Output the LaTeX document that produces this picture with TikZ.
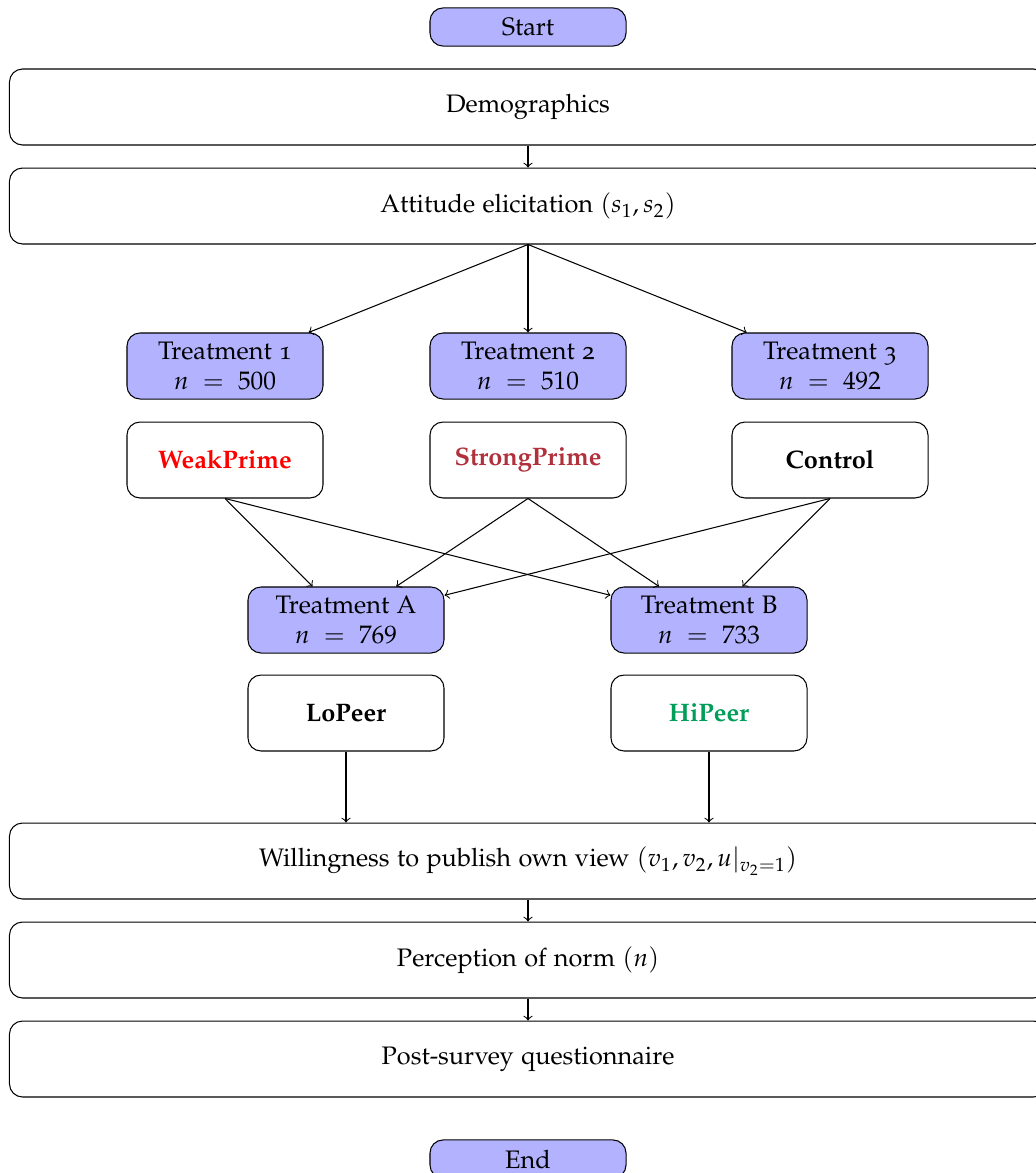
\documentclass[tikz,border=0pt]{standalone}
\usepackage[T1]{fontenc}
\usepackage[osf]{mathpazo}
\definecolor{strongc}{RGB}{176,48,60}
\definecolor{hic}{RGB}{0,158,88}
\tikzset{
  box/.style={draw=black, rounded corners=5pt, thin, align=center, inner sep=2pt, font=\fontsize{9.7pt}{11.6pt}\selectfont},
  treat/.style={box, fill=blue!30, minimum width=75.1pt, minimum height=25.3pt},
  term/.style={box, fill=blue!30, minimum width=75.1pt, minimum height=14.6pt},
  cond/.style={box, fill=white, minimum width=75.1pt, minimum height=29.1pt, font=\fontsize{9.7pt}{11.6pt}\selectfont\bfseries},
  wide/.style={box, fill=white, minimum width=397.3pt, minimum height=29.1pt},
  arr/.style={->, thin}
}
\begin{document}
\begin{tikzpicture}[x=0.3831pt, y=-0.3831pt]
\useasboundingbox (0,0) rectangle (1036,1173);
\node[term] (start) at (528,27) {Start};
\node[wide] (demo) at (528,107) {Demographics};
\node[wide] (att) at (528,206) {Attitude elicitation $(s_1, s_2)$};
\node[treat] (t1) at (225,366) {Treatment 1\\$n \;=\; 500$};
\node[treat] (t2) at (528,366) {Treatment 2\\$n \;=\; 510$};
\node[treat] (t3) at (830,366) {Treatment 3\\$n \;=\; 492$};
\node[cond] (weak) at (225,460) {\textcolor{red}{WeakPrime}};
\node[cond] (strong) at (528,460) {\textcolor{strongc}{StrongPrime}};
\node[cond] (ctrl) at (830,460) {Control};
\node[treat] (ta) at (346,620) {Treatment A\\$n \;=\; 769$};
\node[treat] (tb) at (709,620) {Treatment B\\$n \;=\; 733$};
\node[cond] (lo) at (346,713) {LoPeer};
\node[cond] (hi) at (709,713) {\textcolor{hic}{HiPeer}};
\node[wide] (will) at (528,861) {Willingness to publish own view $(v_1, v_2, u|_{v_2=1})$};
\node[wide] (perc) at (528,960) {Perception of norm $(n)$};
\node[wide] (post) at (528,1059) {Post-survey questionnaire};
\node[term] (end) at (528,1159) {End};
\draw[arr] (demo) -- (att);
\draw[arr] (att.south) -- (t1);
\draw[arr] (att.south) -- (t2);
\draw[arr] (att.south) -- (t3);
\draw[arr] (weak.south) -- (ta);
\draw[arr] (weak.south) -- (tb);
\draw[arr] (strong.south) -- (ta);
\draw[arr] (strong.south) -- (tb);
\draw[arr] (ctrl.south) -- (ta);
\draw[arr] (ctrl.south) -- (tb);
\draw[arr] (lo.south) -- (lo.south |- will.north);
\draw[arr] (hi.south) -- (hi.south |- will.north);
\draw[arr] (will) -- (perc);
\draw[arr] (perc) -- (post);
\end{tikzpicture}
\end{document}
